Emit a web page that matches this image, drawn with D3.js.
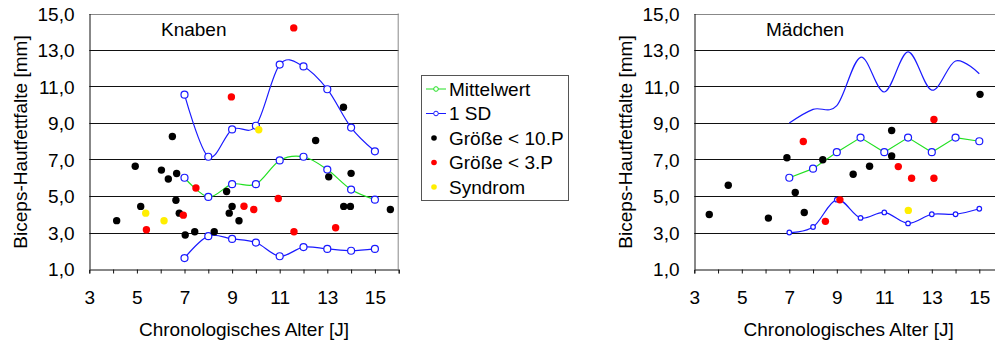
<!DOCTYPE html>
<html>
<head>
<meta charset="utf-8">
<script src="https://cdn.jsdelivr.net/npm/d3@7"></script>
<style>
  body { margin: 0; background: #fff; }
  text { font-family: "Liberation Sans", Arial, sans-serif; }
</style>
</head>
<body>
<script>
// ages for the reference lines
var ages = [7, 8, 9, 10, 11, 12, 13, 14, 15];

// Knaben
var boysMean  = [6.0, 4.95, 5.65, 5.65, 6.95, 7.15, 6.45, 5.35, 4.8];
var boysUpper = [10.55, 7.15, 8.65, 8.85, 12.2, 12.1, 10.85, 8.75, 7.45];
var boysLower = [1.6, 2.8, 2.65, 2.45, 1.7, 2.2, 2.1, 2.0, 2.1];
var boysBlack = [[4.15, 3.65], [4.93, 6.63], [5.16, 4.43], [6.03, 6.42], [6.32, 5.93],
                 [6.67, 6.23], [6.64, 4.77], [6.78, 4.06], [7.03, 2.86], [7.43, 3.04],
                 [8.25, 3.04], [8.77, 5.25], [9.0, 4.43], [8.88, 4.06], [9.29, 3.64],
                 [13.06, 6.05], [14.0, 6.24], [13.69, 4.43], [13.97, 4.43], [15.65, 4.26],
                 [6.49, 8.26], [12.51, 8.04], [13.68, 9.86]];
var boysRed   = [[11.59, 14.21], [8.97, 10.43], [7.48, 5.44], [5.40, 3.15], [6.95, 3.95],
                 [9.5, 4.44], [9.91, 4.26], [10.94, 4.86], [11.6, 3.04], [13.35, 3.26]];
var boysYellow = [[10.12, 8.63], [5.37, 4.06], [6.14, 3.64]];

// Mädchen
var girlsMean  = [6.0, 6.5, 7.4, 8.2, 7.4, 8.2, 7.4, 8.2, 8.0];
var girlsUpper = [9.0, 9.75, 9.95, 12.6, 10.7, 12.9, 10.8, 12.4, 11.7];
var girlsLower = [3.0, 3.3, 4.8, 3.8, 4.1, 3.5, 4.0, 4.0, 4.3];
var girlsBlack = [[3.63, 3.99], [4.43, 5.59], [6.12, 3.79], [6.90, 7.1], [7.25, 5.19],
                  [7.63, 4.1], [8.41, 6.99], [9.69, 6.19], [10.38, 6.63], [11.31, 7.19],
                  [11.31, 8.59], [15.03, 10.57]];
var girlsRed   = [[7.59, 7.99], [13.09, 9.19], [11.59, 6.61], [12.15, 5.97], [13.09, 5.97],
                  [9.13, 4.79], [8.52, 3.61]];
var girlsYellow = [[12.01, 4.21]];

var yTicks = [1, 3, 5, 7, 9, 11, 13, 15];
var xLabels = [3, 5, 7, 9, 11, 13, 15];
var legendLabels = ["Mittelwert", "1 SD", "Größe < 10.P", "Größe < 3.P", "Syndrom"];

var W = 995, H = 347;
var FS = 19;
var fmt = function(d) { return d.toFixed(1).replace(".", ","); };
var smooth = d3.curveCardinal.tension(0);

var svg = d3.select("body").append("svg")
    .attr("width", W)
    .attr("height", H);

function panel(cfg) {
  var x = d3.scaleLinear().domain([3, 16]).range([cfg.left, cfg.left + 13 * cfg.unit]);
  var y = d3.scaleLinear().domain([1, 15]).range([269, 13.5]);
  var g = svg.append("g");

  // grid lines
  g.selectAll("line.grid")
    .data(yTicks.slice(1))
    .enter().append("line")
    .attr("x1", x(3)).attr("x2", x(16))
    .attr("y1", function(d) { return Math.round(y(d)) + 0.5; })
    .attr("y2", function(d) { return Math.round(y(d)) + 0.5; })
    .attr("stroke", function(d) { return d == 15 ? "#888" : "#111"; })
    .attr("stroke-width", 1);
  g.append("line")
    .attr("x1", x(16) - 0.5).attr("x2", x(16) - 0.5)
    .attr("y1", y(15)).attr("y2", y(1))
    .attr("stroke", "#888");

  // x axis
  var xAxis = d3.axisBottom(x)
    .tickValues(d3.range(3, 17))
    .tickSize(4)
    .tickFormat(function(d) { return xLabels.indexOf(d) >= 0 ? d : ""; });
  var ax = g.append("g").attr("transform", "translate(0," + (Math.round(y(1)) + 0.5) + ")").call(xAxis);
  ax.select(".domain").attr("stroke", "#111");
  ax.selectAll(".tick line").attr("stroke", "#111");
  ax.selectAll("text").attr("font-size", FS).attr("fill", "#000")
    .attr("y", 34).attr("dy", 0)
    .attr("font-family", "Liberation Sans, Arial, sans-serif");

  // y axis
  var yAxis = d3.axisLeft(y).tickValues(yTicks).tickSize(0).tickPadding(15).tickFormat(fmt);
  var ay = g.append("g").attr("transform", "translate(" + (Math.round(x(3)) + 0.5) + ",0)").call(yAxis);
  ay.select(".domain").attr("stroke", "#111");
  ay.selectAll("text").attr("font-size", FS).attr("fill", "#000").attr("dy", "0.36em")
    .attr("font-family", "Liberation Sans, Arial, sans-serif");

  g.append("text")
    .attr("transform", "translate(" + (cfg.left - 69) + ",142) rotate(-90)")
    .attr("text-anchor", "middle")
    .attr("dy", "0.35em")
    .attr("font-size", FS)
    .text("Biceps-Hautfettfalte [mm]");
  g.append("text")
    .attr("x", x(9.5)).attr("y", 336)
    .attr("text-anchor", "middle")
    .attr("font-size", FS)
    .text("Chronologisches Alter [J]");
  g.append("text")
    .attr("x", cfg.titleX).attr("y", 36)
    .attr("font-size", FS)
    .text(cfg.title);

  // lines
  var line = d3.line()
    .x(function(d, i) { return x(ages[i]); })
    .y(function(d) { return y(d); });

  g.append("path").datum(cfg.upper)
    .attr("d", line.curve(smooth)).attr("fill", "none").attr("stroke", "#1a1aff").attr("stroke-width", 1.2);
  g.append("path").datum(cfg.lower)
    .attr("d", line.curve(smooth)).attr("fill", "none").attr("stroke", "#1a1aff").attr("stroke-width", 1.2);
  g.append("path").datum(cfg.mean)
    .attr("d", line.curve(cfg.meanCurve)).attr("fill", "none").attr("stroke", "#22e022").attr("stroke-width", 1.2);

  function circles(data, r) {
    g.append("g").selectAll("circle")
      .data(data)
      .enter().append("circle")
      .attr("cx", function(d, i) { return x(ages[i]); })
      .attr("cy", function(d) { return y(d); })
      .attr("r", r)
      .attr("fill", "#fff")
      .attr("stroke", "#1a1aff")
      .attr("stroke-width", 1.2);
  }
  circles(cfg.mean, 3.5);
  if (cfg.upperMarkers) circles(cfg.upper, 3.5);
  circles(cfg.lower, cfg.lowerR);

  function dots(data, color) {
    g.append("g").selectAll("circle")
      .data(data)
      .enter().append("circle")
      .attr("cx", function(d) { return x(d[0]); })
      .attr("cy", function(d) { return y(d[1]); })
      .attr("r", 3.7)
      .attr("fill", color);
  }
  dots(cfg.black, "#000");
  dots(cfg.red, "#ff0000");
  dots(cfg.yellow, "#ffee00");
}

panel({ left: 89.3, unit: 23.8, title: "Knaben", titleX: 161,
        mean: boysMean, upper: boysUpper, lower: boysLower, meanCurve: smooth,
        upperMarkers: true, lowerR: 3.5,
        black: boysBlack, red: boysRed, yellow: boysYellow });
panel({ left: 694.3, unit: 23.75, title: "Mädchen", titleX: 766,
        mean: girlsMean, upper: girlsUpper, lower: girlsLower, meanCurve: d3.curveLinear,
        upperMarkers: false, lowerR: 2.3,
        black: girlsBlack, red: girlsRed, yellow: girlsYellow });

// legend
var leg = svg.append("g");
leg.append("rect")
  .attr("x", 421.5).attr("y", 75.5).attr("width", 147).attr("height", 125)
  .attr("fill", "#fff").attr("stroke", "#555");
var legColors = ["#22e022", "#1a1aff", "#000", "#ff0000", "#ffee00"];
leg.selectAll("g.item")
  .data(legendLabels)
  .enter().append("g")
  .attr("transform", function(d, i) { return "translate(0," + (89 + i * 24.5) + ")"; })
  .each(function(d, i) {
    var it = d3.select(this);
    if (i < 2) {
      it.append("line").attr("x1", 426).attr("x2", 446).attr("stroke", legColors[i]);
      it.append("circle").attr("cx", 436).attr("r", 2.3)
        .attr("fill", "#fff").attr("stroke", legColors[i]);
    } else {
      it.append("circle").attr("cx", 434).attr("r", 2.8).attr("fill", legColors[i]);
    }
    it.append("text").attr("x", 449).attr("dy", "0.35em").attr("font-size", FS).text(d);
  });
</script>
</body>
</html>
